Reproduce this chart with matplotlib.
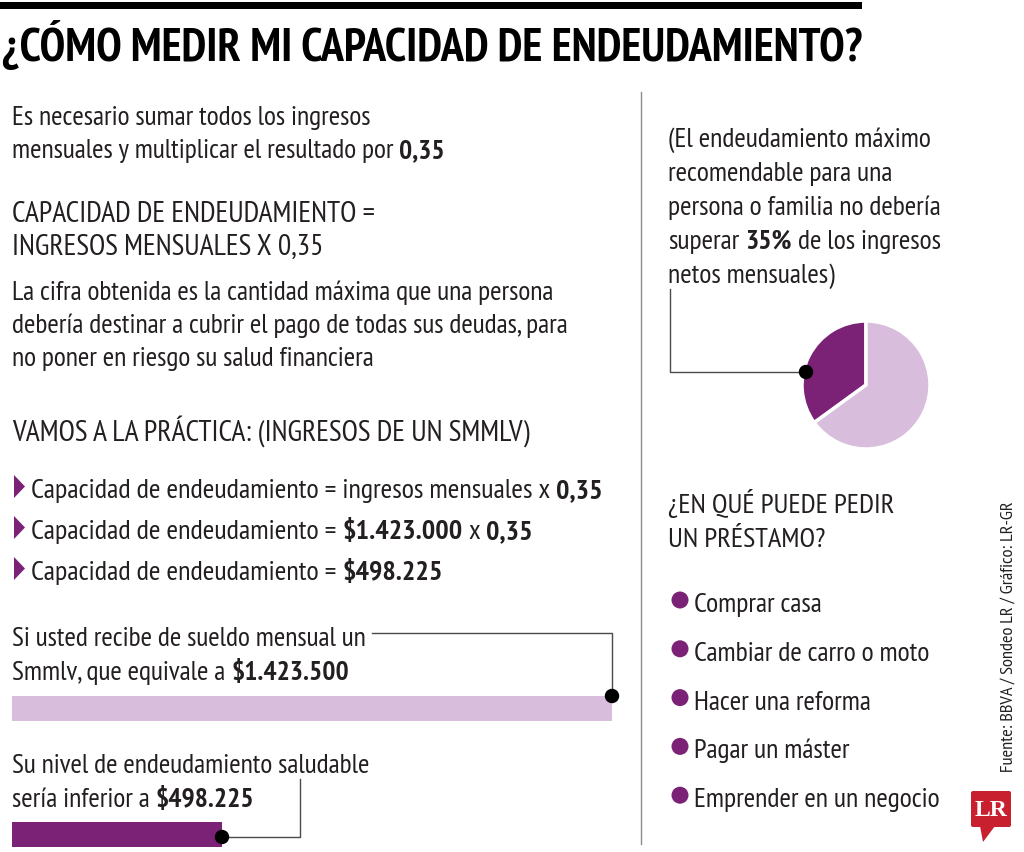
import matplotlib
matplotlib.use("Agg")
import matplotlib.pyplot as plt
from matplotlib.patches import Polygon, FancyBboxPatch, Circle

FONT = ['PT Sans Narrow', 'DejaVu Sans']
TEXT = '#231f20'
DARK = '#7b2176'
LIGHT = '#d9bddc'
LINE = '#4a4a4a'

# ---------------- data ----------------
title = '¿CÓMO MEDIR MI CAPACIDAD DE ENDEUDAMIENTO?'
bar_labels = ['Ingresos mensuales (SMMLV)', 'Nivel de endeudamiento saludable']
bar_values = [1423500, 498225]
pie_labels = ['Endeudamiento máximo', 'Resto de ingresos']
pie_values = [35, 65]
loan_uses = ['Comprar casa', 'Cambiar de carro o moto', 'Hacer una reforma',
             'Pagar un máster', 'Emprender en un negocio']
source = 'Fuente: BBVA / Sondeo LR / Gráfico: LR-GR'

intro = [[('Es necesario sumar todos los ingresos', False)],
         [('mensuales y multiplicar el resultado por', False), ('0,35', True)]]
formula = [[('CAPACIDAD DE ENDEUDAMIENTO =', False)],
           [('INGRESOS MENSUALES X 0,35', False)]]
explain = [[('La cifra obtenida es la cantidad máxima que una persona', False)],
           [('debería destinar a cubrir el pago de todas sus deudas, para', False)],
           [('no poner en riesgo su salud financiera', False)]]
practice = 'VAMOS A LA PRÁCTICA: (INGRESOS DE UN SMMLV)'
steps = [[('Capacidad de endeudamiento = ingresos mensuales x', False), ('0,35', True)],
         [('Capacidad de endeudamiento =', False), ('$1.423.000', True), ('x', False), ('0,35', True)],
         [('Capacidad de endeudamiento =', False), ('$498.225', True)]]
bar_text_1 = [[('Si usted recibe de sueldo mensual un', False)],
              [('Smmlv, que equivale a', False), ('$1.423.500', True)]]
bar_text_2 = [[('Su nivel de endeudamiento saludable', False)],
              [('sería inferior a', False), ('$498.225', True)]]
pie_text = [[('(El endeudamiento máximo', False)],
            [('recomendable para una', False)],
            [('persona o familia no debería', False)],
            [('superar', False), ('35%', True), ('de los ingresos', False)],
            [('netos mensuales)', False)]]
loan_title = ['¿EN QUÉ PUEDE PEDIR', 'UN PRÉSTAMO?']

# ---------------- canvas ----------------
fig = plt.figure(figsize=(10.24, 8.53), dpi=100)
ax = fig.add_axes([0, 0, 1, 1])
ax.set_xlim(0, 1024)
ax.set_ylim(853, 0)
ax.axis('off')
ax.set_zorder(5)
R = fig.canvas.get_renderer()


def width(s, size, bold=False):
    t = ax.text(0, 0, s, fontsize=size, family=FONT,
                weight='bold' if bold else 'normal')
    w = t.get_window_extent(renderer=R).width
    t.remove()
    return w


def runs_width(runs, size):
    w = 0
    for i, (s, b) in enumerate(runs):
        w += width(s, size, b)
        if i:
            w += width('n n', size) - width('nn', size)
    return w


def fit(runs, target, size0=20.0):
    return size0 * target / runs_width(runs, size0)


def draw_runs(x, y, runs, size, color=TEXT):
    sp = width('n n', size) - width('nn', size)
    for i, (s, b) in enumerate(runs):
        if i:
            x += sp
        ax.text(x, y, s, fontsize=size, family=FONT, color=color,
                weight='bold' if b else 'normal', va='baseline', ha='left')
        x += width(s, size, b)
    return x


# top rule + title
ax.add_patch(plt.Rectangle((0, 3), 862, 7, color='black', lw=0))
ts = fit([(title, True)], 856)
draw_runs(2, 61, [(title, True)], ts, color='black')

# divider
ax.plot([641, 641], [93, 845], color='#8c8c8c', lw=1)

# left column text
body = fit(explain[1], 556)
for i, ln in enumerate(intro):
    draw_runs(12, 125 + 33 * i, ln, body)
caps = fit([(practice, False)], 518)
for i, ln in enumerate(formula):
    draw_runs(12, 222 + 33 * i, ln, caps)
for i, ln in enumerate(explain):
    draw_runs(12, 300 + 33 * i, ln, body)
draw_runs(12, 441, [(practice, False)], caps)

step_size = fit(steps[0], 572)
for i, ln in enumerate(steps):
    yb = 498 + 41 * i
    ax.add_patch(Polygon([[14, yb - 22], [14, yb + 1], [25, yb - 10.5]],
                         closed=True, color=DARK, lw=0))
    draw_runs(31, yb, ln, step_size)

# bar texts
x_end1 = draw_runs(12, 646, bar_text_1[0], body)
draw_runs(12, 680, bar_text_1[1], body)
draw_runs(12, 773, bar_text_2[0], body)
draw_runs(12, 807, bar_text_2[1], body)

# bars (value-scaled)
bx = fig.add_axes([12 / 1024, 0, 600 / 1024, 1])
bx.set_xlim(0, bar_values[0])
bx.set_ylim(853, 0)
bx.axis('off')
bx.set_zorder(1)
bx.barh([709.5, 835.5], bar_values, height=25, left=0,
        color=[LIGHT, DARK], edgecolor='none')
ends_px = [12 + 600 * v / bar_values[0] for v in bar_values]

# connectors for bars
ax.plot([x_end1 + 6, ends_px[0], ends_px[0]], [634, 634, 697], color=LINE, lw=1)
ax.add_patch(Circle((ends_px[0], 697), 6.5, color='black', zorder=5))
ax.plot([300, 300, ends_px[1]], [780, 838, 838], color=LINE, lw=1)
ax.add_patch(Circle((ends_px[1], 838), 6.5, color='black', zorder=5))

# right column: pie text
rsize = fit(pie_text[3], 272)
for i, ln in enumerate(pie_text):
    draw_runs(668, 147 + 34 * i, ln, rsize)

# pie
cx, cy, rad = 866, 386, 64
px = fig.add_axes([(cx - rad) / 1024, 1 - (cy + rad) / 853, 2 * rad / 1024, 2 * rad / 853])
px.pie(pie_values, colors=[DARK, LIGHT], startangle=90, counterclock=True,
       wedgeprops=dict(edgecolor='white', linewidth=2.5))
px.set_aspect('auto')
px.set_xlim(-1, 1)
px.set_ylim(-1, 1)
px.axis('off')
px.set_zorder(1)

ax.plot([670, 670, 806], [290, 373, 373], color=LINE, lw=1)
ax.add_patch(Circle((806, 373), 6.5, color='black', zorder=5))

# loan list
lts = fit([(loan_title[0], False)], 225)
for i, s in enumerate(loan_title):
    draw_runs(668, 513 + 34 * i, [(s, False)], lts)
lsize = fit([(loan_uses[-1], False)], 246)
for i, s in enumerate(loan_uses):
    yb = 612 + 48.8 * i
    ax.add_patch(Circle((680, yb - 11), 8.5, color=DARK, lw=0))
    draw_runs(694, yb, [(s, False)], lsize)

# source (rotated)
ss = fit([(source, False)], 272)
ax.text(1009, 772, source, rotation=90, fontsize=ss, family=FONT, color=TEXT,
        ha='center', va='bottom')

# LR logo
ax.add_patch(FancyBboxPatch((971, 792), 40, 36, boxstyle='round,pad=0,rounding_size=2',
                            color='#c8202f', lw=0))
ax.add_patch(Polygon([[980, 827], [995, 827], [983, 843]], closed=True,
                     color='#c8202f', lw=0))
ax.text(991, 811, 'LR', fontsize=17, family=['Liberation Serif', 'DejaVu Serif'],
        weight='bold', color='white', ha='center', va='center')

fig.savefig('out.png', dpi=100, facecolor='white')
